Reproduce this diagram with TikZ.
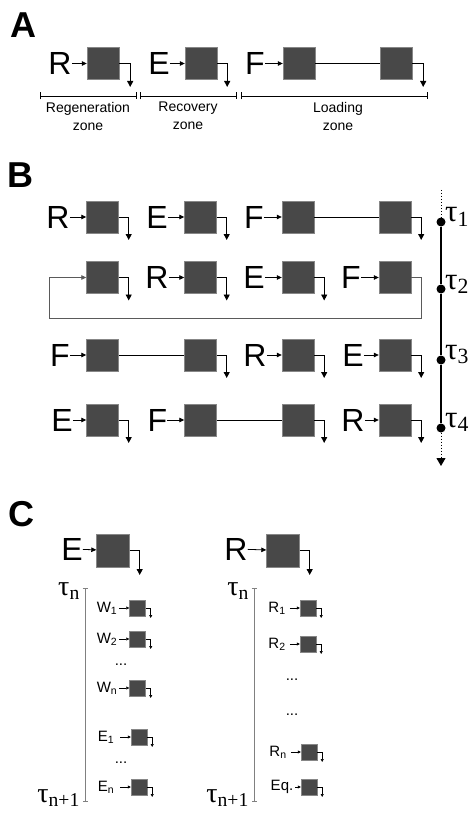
\RequirePackage{fix-cm}
\documentclass[tikz,border=0pt]{standalone}
\usepackage[no-math]{fontspec}
\setmainfont{Liberation Sans}
\newfontfamily\greekserif{Liberation Serif}
\usetikzlibrary{arrows.meta}
\definecolor{unitgray}{RGB}{72,72,72}
\definecolor{edgegray}{RGB}{135,135,135}
\definecolor{linegray}{RGB}{90,90,90}

\begin{document}
\begin{tikzpicture}[x=1pt,y=-1pt,
    unit/.style={draw=edgegray,fill=unitgray,minimum size=32pt,inner sep=0pt},
    smallunit/.style={draw=edgegray,fill=unitgray,minimum size=16pt,inner sep=0pt},
    letter/.style={font=\fontsize{32}{32}\selectfont,inner sep=0pt},
    sletter/.style={font=\fontsize{15}{15}\selectfont,inner sep=0pt},
    panel/.style={font=\fontsize{36}{36}\selectfont\bfseries,inner sep=0pt},
    zone/.style={font=\fontsize{14}{18}\selectfont,align=center,inner sep=0pt,anchor=north},
    feed/.style={-{Triangle[length=5pt,width=4.5pt]},line width=0.8pt},
    sfeed/.style={-{Triangle[length=3pt,width=3pt]},line width=0.6pt,shorten <=2pt},
    drain/.style={-{Triangle[length=6pt,width=6pt]},line width=0.9pt},
    sdrain/.style={-{Triangle[length=3pt,width=3pt]},line width=0.6pt},
    tau/.style={font=\greekserif\fontsize{31}{31}\selectfont,inner sep=0pt},
    stau/.style={font=\greekserif\fontsize{28}{28}\selectfont,inner sep=0pt},
    zonebar/.style={{Bar[width=7pt]}-{Bar[width=7pt]},line width=0.7pt},
    timebar/.style={{Bar[width=5pt]}-{Bar[width=5pt]},line width=0.7pt,draw=gray},
    dot/.style={circle,fill,inner sep=0pt,minimum size=9pt}
]
\useasboundingbox (0,0) rectangle (474,818);

\node[panel] (pa) at (23,25) {A};
\node[letter] (ar) at (60,63.5) {R};
\node[unit] (a1) at (103,63.5) {};
\node[letter] (ae) at (159,63.5) {E};
\node[unit] (a2) at (201,63.5) {};
\node[letter] (af) at (255,63.5) {F};
\node[unit] (a3) at (299,63.5) {};
\node[unit] (a4) at (396,63.5) {};
\draw[feed] (ar) -- (a1);
\draw[feed] (ae) -- (a2);
\draw[feed] (af) -- (a3);
\draw[line width=0.8pt] (a3) -- (a4);
\draw[drain] (a1.east) -- ++(11,0) -- ++(0,23.5);
\draw[drain] (a2.east) -- ++(10,0) -- ++(0,23.5);
\draw[drain] (a4.east) -- ++(11,0) -- ++(0,23.5);
\coordinate (z0) at (40,96);
\coordinate (z1) at (137,96);
\coordinate (z2) at (140,96);
\coordinate (z3) at (237,96);
\coordinate (z4) at (241,96);
\coordinate (z5) at (428,96);
\draw[zonebar] (z0) -- (z1);
\draw[zonebar] (z2) -- (z3);
\draw[zonebar] (z4) -- (z5);
\node[zone] (zr) at (88,102) {Regeneration\\zone};
\node[zone] (ze) at (188,102) {Recovery\\zone};
\node[zone] (zl) at (338,102) {Loading\\zone};

\node[panel] (pb) at (20,175) {B};
\node[letter] (b1r) at (58,217) {R};
\node[unit] (b11) at (102.5,217) {};
\node[letter] (b1e) at (157,217) {E};
\node[unit] (b12) at (200.5,217) {};
\node[letter] (b1f) at (254,217) {F};
\node[unit] (b13) at (298,217) {};
\node[unit] (b14) at (395,217) {};
\draw[feed] (b1r) -- (b11);
\draw[feed] (b1e) -- (b12);
\draw[feed] (b1f) -- (b13);
\draw[line width=0.8pt] (b13) -- (b14);
\draw[drain] (b11.east) -- ++(10,0) -- ++(0,23);
\draw[drain] (b12.east) -- ++(10,0) -- ++(0,23);
\draw[drain] (b14.east) -- ++(10,0) -- ++(0,23);

\node[unit] (b21) at (102.5,277.5) {};
\node[letter] (b2r) at (157,277.5) {R};
\node[unit] (b22) at (200.5,277.5) {};
\node[letter] (b2e) at (254,277.5) {E};
\node[unit] (b23) at (298,277.5) {};
\node[letter] (b2f) at (351,277.5) {F};
\node[unit] (b24) at (395,277.5) {};
\draw[feed] (b2r) -- (b22);
\draw[feed] (b2e) -- (b23);
\draw[feed] (b2f) -- (b24);
\draw[drain] (b21.east) -- ++(10,0) -- ++(0,23);
\draw[drain] (b22.east) -- ++(10,0) -- ++(0,23);
\draw[drain] (b23.east) -- ++(10,0) -- ++(0,23);
\coordinate (loop) at (49,318);
\draw[feed,draw=linegray] (b24.east) -- ++(10,0) |- (loop) |- (b21.west);

\node[letter] (b3f) at (60,355) {F};
\node[unit] (b31) at (102.5,355) {};
\node[unit] (b32) at (200.5,355) {};
\node[letter] (b3r) at (255,355) {R};
\node[unit] (b33) at (298,355) {};
\node[letter] (b3e) at (353,355) {E};
\node[unit] (b34) at (395,355) {};
\draw[feed] (b3f) -- (b31);
\draw[line width=0.8pt] (b31) -- (b32);
\draw[feed] (b3r) -- (b33);
\draw[feed] (b3e) -- (b34);
\draw[drain] (b32.east) -- ++(10,0) -- ++(0,23);
\draw[drain] (b33.east) -- ++(10,0) -- ++(0,23);
\draw[drain] (b34.east) -- ++(10,0) -- ++(0,23);

\node[letter] (b4e) at (62,420) {E};
\node[unit] (b41) at (102.5,420) {};
\node[letter] (b4f) at (157.5,420) {F};
\node[unit] (b42) at (200.5,420) {};
\node[unit] (b43) at (298,420) {};
\node[letter] (b4r) at (353,420) {R};
\node[unit] (b44) at (395,420) {};
\draw[feed] (b4e) -- (b41);
\draw[feed] (b4f) -- (b42);
\draw[line width=0.8pt] (b42) -- (b43);
\draw[feed] (b4r) -- (b44);
\draw[drain] (b41.east) -- ++(10,0) -- ++(0,23);
\draw[drain] (b43.east) -- ++(10,0) -- ++(0,23);
\draw[drain] (b44.east) -- ++(10,0) -- ++(0,23);

\coordinate (ttop) at (441,190);
\coordinate (tend) at (441,466);
\node[dot] (t1) at (441,222) {};
\node[dot] (t2) at (441,289) {};
\node[dot] (t3) at (441,360) {};
\node[dot] (t4) at (441,428) {};
\draw[dotted,line width=1pt] (ttop) -- (t1);
\draw[line width=1.6pt] (t1) -- (t2) -- (t3) -- (t4);
\draw[dotted,line width=1pt,-{Triangle[length=8pt,width=9pt]}] (t4) -- (tend);
\node[tau,anchor=base west] (l1) at (445,222) {τ\textsubscript{1}};
\node[tau,anchor=base west] (l2) at (445,289) {τ\textsubscript{2}};
\node[tau,anchor=base west] (l3) at (445,359) {τ\textsubscript{3}};
\node[tau,anchor=base west] (l4) at (445,427) {τ\textsubscript{4}};

\node[panel] (pc) at (21,514) {C};
\node[letter] (ce) at (72,549) {E};
\node[unit,minimum size=33pt] (c1) at (113,550.5) {};
\node[letter] (cr) at (236,549) {R};
\node[unit,minimum size=33pt] (c2) at (283,550.5) {};
\draw[feed] (ce) -- (c1);
\draw[feed] (cr) -- (c2);
\draw[drain] (c1.east) -- ++(10,0) -- ++(0,24.5);
\draw[drain] (c2.east) -- ++(10,0) -- ++(0,24.5);

\coordinate (ltop) at (85,588);
\coordinate (lbot) at (85,802);
\coordinate (rtop) at (254,588);
\coordinate (rbot) at (254,802);
\draw[timebar] (ltop) -- (lbot);
\draw[timebar] (rtop) -- (rbot);
\node[stau,anchor=base east] (tln) at (80,595) {τ\textsubscript{n}};
\node[stau,anchor=base east] (tlm) at (80,802) {τ\textsubscript{n+1}};
\node[stau,anchor=base east] (trn) at (249,595) {τ\textsubscript{n}};
\node[stau,anchor=base east] (trm) at (249,802) {τ\textsubscript{n+1}};

\node[sletter] (w1) at (107,608) {W\textsubscript{1}};
\node[smallunit] (u1) at (137.5,608) {};
\node[sletter] (w2) at (107,639) {W\textsubscript{2}};
\node[smallunit] (u2) at (137.5,639) {};
\node[sletter] (d1) at (121,665) {...};
\node[sletter] (wn) at (107,688) {W\textsubscript{n}};
\node[smallunit] (u3) at (137.5,688) {};
\node[sletter] (e1) at (106,737) {E\textsubscript{1}};
\node[smallunit] (u4) at (139,737) {};
\node[sletter] (d2) at (121,763) {...};
\node[sletter] (en) at (106,787) {E\textsubscript{n}};
\node[smallunit] (u5) at (139,787) {};
\draw[sfeed] (w1) -- (u1);
\draw[sfeed] (w2) -- (u2);
\draw[sfeed] (wn) -- (u3);
\draw[sfeed,shorten <=6pt] (e1) -- (u4);
\draw[sfeed,shorten <=6pt] (en) -- (u5);
\draw[sdrain] (u1.east) -- ++(5,0) -- ++(0,10);
\draw[sdrain] (u2.east) -- ++(5,0) -- ++(0,10);
\draw[sdrain] (u3.east) -- ++(5,0) -- ++(0,10);
\draw[sdrain] (u4.east) -- ++(5,0) -- ++(0,10);
\draw[sdrain] (u5.east) -- ++(5,0) -- ++(0,10);

\node[sletter] (r1) at (277,608) {R\textsubscript{1}};
\node[smallunit] (v1) at (308,608) {};
\node[sletter] (r2) at (277,644) {R\textsubscript{2}};
\node[smallunit] (v2) at (308,644) {};
\node[sletter] (d3) at (292,680) {...};
\node[sletter] (d4) at (292,715) {...};
\node[sletter] (rn) at (278,752) {R\textsubscript{n}};
\node[smallunit] (v3) at (309,752) {};
\node[sletter] (eq) at (282,787) {Eq.};
\node[smallunit] (v4) at (309,787) {};
\draw[sfeed,shorten <=4pt] (r1) -- (v1);
\draw[sfeed,shorten <=4pt] (r2) -- (v2);
\draw[sfeed,shorten <=4pt] (rn) -- (v3);
\draw[sfeed] (eq) -- (v4);
\draw[sdrain] (v1.east) -- ++(5,0) -- ++(0,10);
\draw[sdrain] (v2.east) -- ++(5,0) -- ++(0,10);
\draw[sdrain] (v3.east) -- ++(5,0) -- ++(0,10);
\draw[sdrain] (v4.east) -- ++(5,0) -- ++(0,10);
\end{tikzpicture}
\end{document}
